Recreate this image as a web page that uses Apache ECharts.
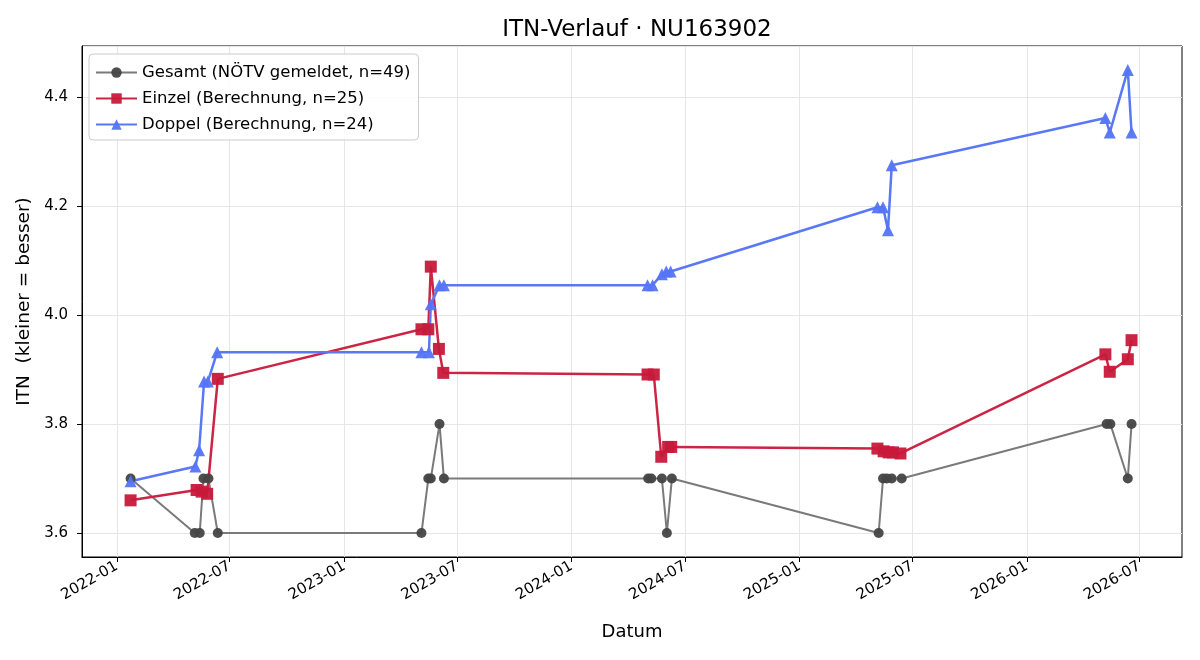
<!DOCTYPE html>
<html>
<head>
<meta charset="utf-8">
<title>ITN-Verlauf</title>
<script src="https://cdn.jsdelivr.net/npm/echarts@6/dist/echarts.min.js"></script>
<style>
  html, body { margin: 0; padding: 0; background: #fff; }
  #chart { width: 1200px; height: 660px; }
</style>
</head>
<body>
<div id="chart"></div>
<script>
// Gesamt (NÖTV gemeldet)
var gesamtDates = ['2022-01-23', '2022-05-06', '2022-05-14', '2022-05-20', '2022-05-28', '2022-06-12',
  '2023-05-05', '2023-05-16', '2023-05-20', '2023-06-03', '2023-06-10',
  '2024-05-03', '2024-05-08', '2024-05-25', '2024-06-02', '2024-06-10',
  '2025-05-08', '2025-05-15', '2025-05-21', '2025-05-29', '2025-06-14',
  '2026-05-09', '2026-05-15', '2026-06-12', '2026-06-18']
var gesamtValues = [3.7, 3.6, 3.6, 3.7, 3.7, 3.6,
  3.6, 3.7, 3.7, 3.8, 3.7,
  3.7, 3.7, 3.7, 3.6, 3.7,
  3.6, 3.7, 3.7, 3.7, 3.7,
  3.8, 3.8, 3.7, 3.8]

// Einzel (Berechnung)
var einzelDates = ['2022-01-23', '2022-05-09', '2022-05-17', '2022-05-26', '2022-06-12',
  '2023-05-05', '2023-05-16', '2023-05-20', '2023-06-02', '2023-06-09',
  '2024-05-02', '2024-05-12', '2024-05-24', '2024-06-04', '2024-06-09',
  '2025-05-06', '2025-05-16', '2025-05-24', '2025-05-31', '2025-06-12',
  '2026-05-07', '2026-05-14', '2026-06-12', '2026-06-18']
var einzelValues = [3.66, 3.679, 3.676, 3.672, 3.883,
  3.974, 3.974, 4.089, 3.938, 3.894,
  3.891, 3.891, 3.74, 3.758, 3.758,
  3.755, 3.75, 3.748, 3.748, 3.746,
  3.928, 3.896, 3.919, 3.954]

// Doppel (Berechnung)
var doppelDates = ['2022-01-23', '2022-05-07', '2022-05-13', '2022-05-21', '2022-05-27', '2022-06-11',
  '2023-05-05', '2023-05-17', '2023-05-20', '2023-06-03', '2023-06-10',
  '2024-05-02', '2024-05-10', '2024-05-25', '2024-06-01', '2024-06-08',
  '2025-05-06', '2025-05-15', '2025-05-23', '2025-05-29',
  '2026-05-07', '2026-05-14', '2026-06-12', '2026-06-18']
var doppelValues = [3.695, 3.722, 3.752, 3.878, 3.878, 3.932,
  3.932, 3.932, 4.02, 4.055, 4.055,
  4.055, 4.055, 4.075, 4.08, 4.08,
  4.198, 4.198, 4.156, 4.275,
  4.362, 4.335, 4.45, 4.335]

var xTicks = ['2022-01-01', '2022-07-01', '2023-01-01', '2023-07-01', '2024-01-01',
  '2024-07-01', '2025-01-01', '2025-07-01', '2026-01-01', '2026-07-01']

function ts (d) {
  return Date.UTC(+d.slice(0, 4), +d.slice(5, 7) - 1, +d.slice(8, 10))
}

function pairs (dates, values) {
  return dates.map(function (d, i) { return [ts(d), values[i]] })
}

var tickValues = xTicks.map(ts)
var font = 'DejaVu Sans'
var chart = echarts.init(document.getElementById('chart'))

var option = {
  animation: false,
  backgroundColor: '#fff',
  textStyle: { fontFamily: font },
  title: {
    text: 'ITN-Verlauf · NU163902',
    left: 632,
    top: 14,
    textAlign: 'center',
    textStyle: { fontFamily: font, fontSize: 23, fontWeight: 'normal', color: '#000' }
  },
  grid: {
    left: 82,
    right: 18,
    top: 46,
    bottom: 103,
    show: true,
    borderColor: '#000',
    borderWidth: 1
  },
  legend: {
    orient: 'vertical',
    left: 89,
    top: 54,
    padding: [10, 8, 7, 6],
    itemGap: 9,
    itemWidth: 41,
    itemHeight: 13,
    backgroundColor: 'rgba(255,255,255,0.85)',
    borderColor: '#cccccc',
    borderWidth: 1,
    borderRadius: 4,
    textStyle: { fontFamily: font, fontSize: 16.5, color: '#000' }
  },
  xAxis: {
    type: 'value',
    name: 'Datum',
    nameLocation: 'middle',
    nameGap: 66,
    nameTextStyle: { fontFamily: font, fontSize: 18, color: '#000' },
    min: ts('2021-11-06'),
    max: ts('2026-09-07'),
    axisLine: { show: true, onZero: false, lineStyle: { color: '#000', width: 1 } },
    axisTick: {
      show: true,
      length: 5,
      lineStyle: { color: '#000' },
      customValues: tickValues
    },
    axisLabel: {
      rotate: 30,
      margin: 8,
      fontFamily: font,
      fontSize: 15,
      color: '#000',
      hideOverlap: false,
      customValues: tickValues,
      formatter: function (v) {
        var d = new Date(v)
        var m = d.getUTCMonth() + 1
        return d.getUTCFullYear() + '-' + (m < 10 ? '0' + m : m)
      }
    },
    splitLine: { show: true, lineStyle: { color: '#e6e6e6', width: 1 } }
  },
  yAxis: {
    type: 'value',
    name: 'ITN  (kleiner = besser)',
    nameLocation: 'middle',
    nameGap: 45,
    nameTextStyle: { fontFamily: font, fontSize: 18.5, color: '#000' },
    min: 3.556,
    max: 4.494,
    splitNumber: 5,
    axisLine: { show: true, lineStyle: { color: '#000', width: 1 } },
    axisTick: { show: true, length: 5, lineStyle: { color: '#000' } },
    axisLabel: {
      fontFamily: font,
      fontSize: 15,
      color: '#000',
      margin: 14,
      showMinLabel: false,
      showMaxLabel: false,
      formatter: function (v) { return v.toFixed(1) }
    },
    splitLine: { show: true, lineStyle: { color: '#e6e6e6', width: 1 } }
  },
  series: [
    {
      name: 'Gesamt (NÖTV gemeldet, n=49)',
      type: 'line',
      data: pairs(gesamtDates, gesamtValues),
      symbol: 'circle',
      symbolSize: 10,
      showAllSymbol: true,
      lineStyle: { color: '#7a7a7a', width: 2 },
      itemStyle: { color: '#454545', opacity: 0.95 }
    },
    {
      name: 'Einzel (Berechnung, n=25)',
      type: 'line',
      data: pairs(einzelDates, einzelValues),
      symbol: 'rect',
      symbolSize: 12,
      showAllSymbol: true,
      lineStyle: { color: '#cc2444', width: 2.5 },
      itemStyle: { color: '#c8193b', opacity: 0.95 }
    },
    {
      name: 'Doppel (Berechnung, n=24)',
      type: 'line',
      data: pairs(doppelDates, doppelValues),
      symbol: 'triangle',
      symbolSize: 12,
      showAllSymbol: true,
      lineStyle: { color: '#5a78f5', width: 2.5 },
      itemStyle: { color: '#5574f5', opacity: 0.95 }
    }
  ]
}

chart.setOption(option)
</script>
</body>
</html>
